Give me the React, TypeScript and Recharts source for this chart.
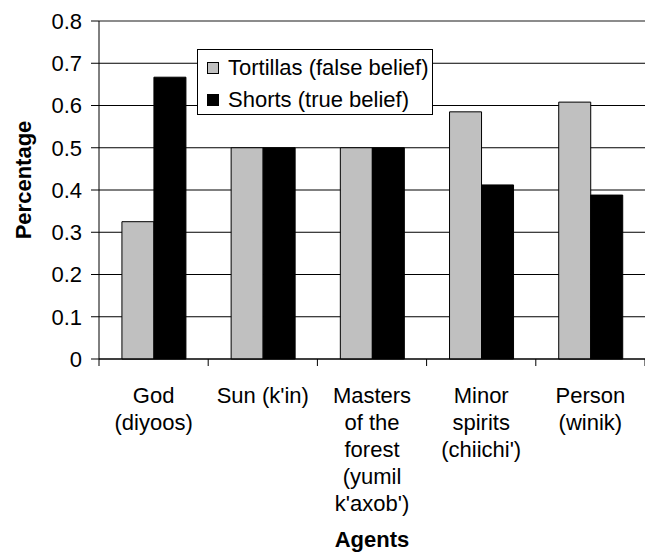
import { BarChart, Bar, XAxis, YAxis, CartesianGrid, Legend, ReferenceLine } from "recharts"

// values
const agents = ["God\n(diyoos)", "Sun (k'in)", "Masters\nof the\nforest\n(yumil\nk'axob')", "Minor\nspirits\n(chiichi')", "Person\n(winik)"]
const tortillas = [0.325, 0.5, 0.5, 0.585, 0.608]
const shorts = [0.667, 0.5, 0.5, 0.412, 0.388]
const yTicks = [0, 0.1, 0.2, 0.3, 0.4, 0.5, 0.6, 0.7, 0.8]

const data = agents.map((agent, i) => ({
  agent,
  "Tortillas (false belief)": tortillas[i],
  "Shorts (true belief)": shorts[i],
}))

const FONT = "'Liberation Sans', Arial, sans-serif"
const W = 645
const H = 553
const LEFT = 99
const BAND = (W - LEFT) / agents.length

function AgentTick(props: any) {
  const { x, y, payload, index } = props
  const lines = String(payload.value).split("\n")
  const left = x - BAND / 2
  return (
    <g>
      <line x1={left} x2={left} y1={y} y2={y + 7} stroke="#000" />
      {index === agents.length - 1 && <line x1={left + BAND} x2={left + BAND} y1={y} y2={y + 7} stroke="#000" />}
      <text x={x} y={y + 44} textAnchor="middle" fontSize={22} fontFamily={FONT} fill="#000">
        {lines.map((l, i) => (
          <tspan key={i} x={x} dy={i === 0 ? 0 : 27}>
            {l}
          </tspan>
        ))}
      </text>
    </g>
  )
}

function PercentLabel(props: any) {
  const { viewBox } = props
  const cx = 31
  const cy = viewBox.y + viewBox.height / 2 - 10
  return (
    <text
      x={cx}
      y={cy}
      transform={`rotate(-90, ${cx}, ${cy})`}
      textAnchor="middle"
      fontFamily={FONT}
      fontSize={22}
      fontWeight="bold"
      fill="#000"
    >
      Percentage
    </text>
  )
}

function LegendBox() {
  const rows = [
    { name: "Tortillas (false belief)", color: "#c0c0c0" },
    { name: "Shorts (true belief)", color: "#000" },
  ]
  return (
    <div
      style={{
        width: 236,
        height: 66,
        boxSizing: "border-box",
        border: "1px solid #000",
        background: "#fff",
        padding: "2px 0 0 9px",
        fontFamily: FONT,
        fontSize: 22,
        lineHeight: "32px",
        whiteSpace: "nowrap",
      }}
    >
      {rows.map((r) => (
        <div key={r.name} style={{ display: "flex", alignItems: "center" }}>
          <span style={{ width: 10, height: 10, border: "1px solid #000", background: r.color, marginRight: 9 }} />
          <span>{r.name}</span>
        </div>
      ))}
    </div>
  )
}

export default function App() {
  return (
    <div style={{ position: "absolute", left: 0, top: 0, background: "#fff" }}>
      <BarChart
        width={W}
        height={H}
        data={data}
        margin={{ top: 21, right: 0, left: 0, bottom: 0 }}
        barCategoryGap="21%"
        barGap={0}
      >
        <CartesianGrid vertical={false} stroke="#000" />
        <ReferenceLine y={0.8} stroke="#999" />
        <XAxis
          dataKey="agent"
          interval={0}
          height={H - 359}
          tick={<AgentTick />}
          tickLine={false}
          tickSize={0}
          tickMargin={0}
          axisLine={{ stroke: "#000" }}
          label={{ value: "Agents", position: "insideBottom", offset: 6, style: { fontFamily: FONT, fontSize: 22, fontWeight: "bold", fill: "#000" } }}
        />
        <YAxis
          width={LEFT}
          domain={[0, 0.8]}
          ticks={yTicks}
          tickSize={8}
          tickMargin={9}
          axisLine={{ stroke: "#000" }}
          tickLine={{ stroke: "#000" }}
          tick={{ fill: "#000", fontSize: 22, fontFamily: FONT }}
          label={<PercentLabel />}
        />
        <Legend
          layout="vertical"
          align="center"
          verticalAlign="middle"
          content={<LegendBox />}
          wrapperStyle={{ left: 197, top: 49, width: 236 }}
        />
        <Bar dataKey="Tortillas (false belief)" fill="#c0c0c0" stroke="#000" isAnimationActive={false} />
        <Bar dataKey="Shorts (true belief)" fill="#000" stroke="#000" isAnimationActive={false} />
      </BarChart>
    </div>
  )
}
